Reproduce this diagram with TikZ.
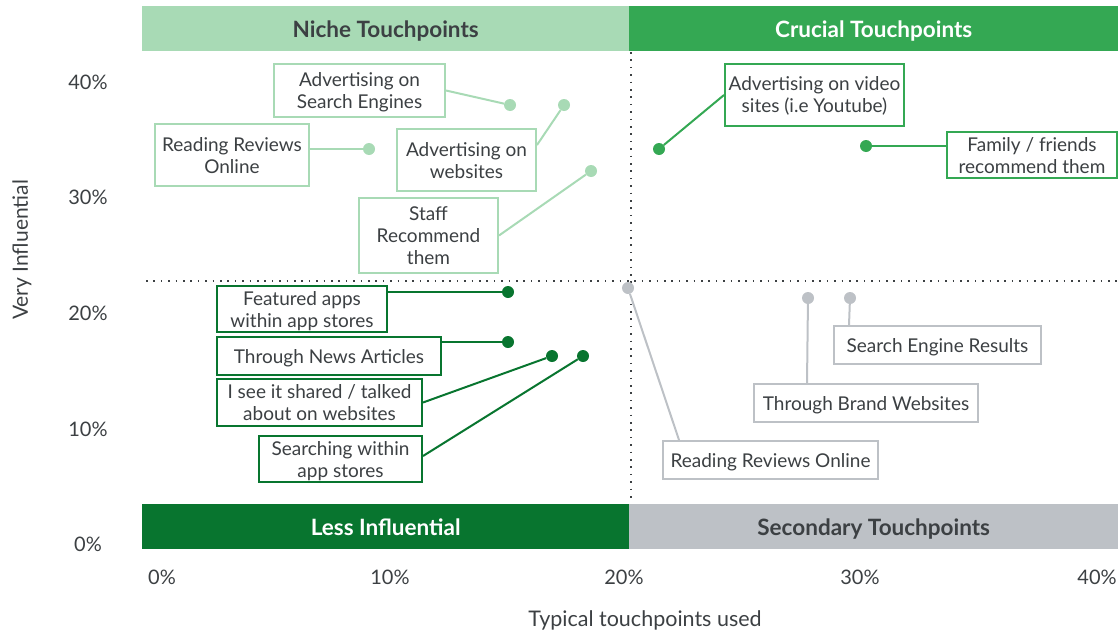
\documentclass[tikz,border=0pt]{standalone}
\usepackage{fontspec}
\setmainfont{Lato}
\definecolor{lgreen}{HTML}{A8DAB5}
\definecolor{mgreen}{HTML}{34A853}
\definecolor{dgreen}{HTML}{08752F}
\definecolor{lgray}{HTML}{BDC1C6}
\definecolor{txt}{HTML}{3C4043}
\begin{document}
\begin{tikzpicture}[x=1pt,y=-1pt,
  lbl/.style={draw, line width=2pt, fill=white, align=center, text=txt,
    font=\fontsize{19}{22}\selectfont, inner sep=0pt, text depth=0pt},
  dotn/.style={circle, fill, inner sep=0pt, minimum size=12pt},
  conn/.style={line width=2pt},
  bar/.style={anchor=north west, inner sep=0pt, minimum width=487pt, minimum height=45pt,
    text depth=0pt, font=\fontsize{22.5}{26}\selectfont\bfseries},
  tick/.style={text=txt, font=\fontsize{20}{24}\selectfont},
  grid/.style={line width=2pt, txt, dash pattern=on 1.6pt off 5.8pt}]
\useasboundingbox (0,0) rectangle (1118,632);
% bars
\node[bar, fill=lgreen, text=txt] (niche) at (142,6) {Niche Touchpoints};
\node[bar, fill=mgreen, text=white, minimum width=489pt] (crucial) at (629,6) {Crucial Touchpoints};
\node[bar, fill=dgreen, text=white] (less) at (142,504) {Less Influential};
\node[bar, fill=lgray, text=txt, minimum width=489pt] (second) at (629,504) {Secondary Touchpoints};
% dotted quadrant lines
\draw[grid] (631,52) -- (631,503);
\draw[grid] (146,281) -- (1118,281);
% axis ticks
\node[tick] (y40) at (88,82) {40\%};
\node[tick] (y30) at (88,197) {30\%};
\node[tick] (y20) at (88,313) {20\%};
\node[tick] (y10) at (88,429) {10\%};
\node[tick] (y0) at (88,544) {0\%};
\node[tick] (x0) at (162,577) {0\%};
\node[tick] (x10) at (390,577) {10\%};
\node[tick] (x20) at (624,577) {20\%};
\node[tick] (x30) at (860,577) {30\%};
\node[tick] (x40) at (1097,577) {40\%};
\node[tick, font=\fontsize{21.5}{24}\selectfont] (xt) at (645,620) {Typical touchpoints used};
\node[tick, font=\fontsize{21}{24}\selectfont, rotate=90] (yt) at (22,250) {Very Influential};
% niche (light green)
\begin{scope}[lgreen]
\node[dotn] (d1) at (510,105) {};
\node[dotn] (d2) at (564,105) {};
\node[dotn] (d3) at (369,149) {};
\node[dotn] (d4) at (591,171) {};
\node[lbl, minimum width=171pt, minimum height=53pt] (ase) at (359.5,90.5) {Advertising on\\Search Engines};
\node[lbl, minimum width=139pt, minimum height=62pt] (aw) at (466.5,160) {Advertising on\\websites};
\node[lbl, minimum width=154pt, minimum height=62pt] (rr1) at (232,155) {Reading Reviews\\Online};
\node[lbl, minimum width=139pt, minimum height=75pt] (st) at (428.5,235.5) {Staff\\Recommend\\them};
\draw[conn] (ase.east) -- (d1);
\draw[conn] ([yshift=15pt]aw.east) -- (d2);
\draw[conn] ([yshift=6pt]rr1.east) -- (d3);
\draw[conn] (st.east) -- (d4);
\end{scope}
% crucial (mid green)
\begin{scope}[mgreen]
\node[dotn] (d5) at (659,149) {};
\node[dotn] (d6) at (866,146) {};
\node[lbl, minimum width=179pt, minimum height=62pt] (vid) at (814.5,95) {Advertising on video\\sites (i.e Youtube)};
\node[lbl, minimum width=170pt, minimum height=46pt] (fam) at (1032,155) {Family / friends\\recommend them};
\draw[conn] (vid.west) -- (d5);
\draw[conn] ([yshift=9pt]fam.west) -- (d6);
\end{scope}
% less influential (dark green)
\begin{scope}[dgreen]
\node[dotn] (d7) at (508,292) {};
\node[dotn] (d8) at (508,342) {};
\node[dotn] (d9) at (552,356) {};
\node[dotn] (d10) at (583,356) {};
\node[lbl, minimum width=170pt, minimum height=46pt] (fa) at (302,309) {Featured apps\\within app stores};
\node[lbl, minimum width=224pt, minimum height=38pt] (na) at (329,356) {Through News Articles};
\node[lbl, minimum width=205pt, minimum height=47pt] (sh) at (319.5,402.5) {I see it shared / talked\\about on websites};
\node[lbl, minimum width=163pt, minimum height=46pt] (sa) at (340.5,459) {Searching within\\app stores};
\draw[conn] ([yshift=17pt]fa.east) -- (d7);
\draw[conn] ([yshift=14pt]na.east) -- (d8);
\draw[conn] (sh.east) -- (d9);
\draw[conn] ([yshift=3pt]sa.east) -- (d10);
\end{scope}
% secondary (gray)
\begin{scope}[lgray]
\node[dotn] (d11) at (628,288) {};
\node[dotn] (d12) at (808,298) {};
\node[dotn] (d13) at (850,298) {};
\node[lbl, minimum width=215pt, minimum height=38pt] (rr2) at (770.5,460) {Reading Reviews Online};
\node[lbl, minimum width=224pt, minimum height=38pt] (bw) at (866,403) {Through Brand Websites};
\node[lbl, minimum width=207pt, minimum height=38pt] (ser) at (937.5,345) {Search Engine Results};
\draw[conn] (d11) -- ([xshift=17pt]rr2.north west);
\draw[conn] (d12) -- ([xshift=54pt]bw.north west);
\draw[conn] (d13) -- ([xshift=16pt]ser.north west);
\end{scope}
\end{tikzpicture}
\end{document}
